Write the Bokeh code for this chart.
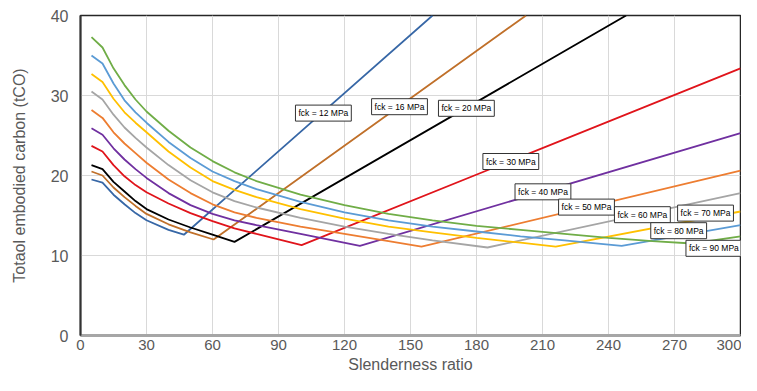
from bokeh.plotting import figure
from bokeh.models import Label, Range1d, FixedTicker
from bokeh.embed import file_html
from bokeh.resources import INLINE

# ---- data ----
x_ticks = [0, 30, 60, 90, 120, 150, 180, 210, 240, 270, 300]
y_ticks = [0, 10, 20, 30, 40]

x_12 = [5, 10, 15, 20, 25, 30, 40, 47, 160]
y_12 = [19.5, 19.1, 17.6, 16.4, 15.3, 14.4, 13.2, 12.6, 40.0]

x_16 = [5, 10, 15, 20, 25, 30, 40, 50, 60.5, 202.5]
y_16 = [20.5, 20.0, 18.5, 17.3, 16.2, 15.2, 13.9, 12.9, 12.0, 40.0]

x_20 = [5, 10, 15, 20, 25, 30, 40, 50, 60, 70, 248]
y_20 = [21.3, 20.8, 19.2, 18.0, 16.8, 15.8, 14.5, 13.5, 12.6, 11.7, 40.0]

x_30 = [5, 10, 15, 20, 25, 30, 40, 50, 60, 70, 80, 100.5, 300]
y_30 = [23.7, 23.0, 21.3, 19.9, 18.8, 17.9, 16.5, 15.3, 14.3, 13.4, 12.7, 11.3, 33.4]

x_40 = [5, 10, 15, 20, 25, 30, 40, 50, 60, 70, 80, 100, 127, 300]
y_40 = [25.9, 25.1, 23.4, 22.0, 20.8, 19.7, 17.8, 16.3, 15.2, 14.4, 13.8, 12.7, 11.2, 25.3]

x_50 = [5, 10, 15, 20, 25, 30, 40, 50, 60, 70, 80, 100, 120, 140, 155, 300]
y_50 = [28.2, 27.2, 25.4, 24.0, 22.8, 21.6, 19.5, 17.8, 16.4, 15.4, 14.7, 13.6, 12.7, 11.8, 11.1, 20.6]

x_60 = [5, 10, 15, 20, 25, 30, 40, 50, 60, 70, 80, 100, 120, 140, 160, 185, 300]
y_60 = [30.5, 29.5, 27.6, 26.0, 24.7, 23.5, 21.3, 19.4, 17.9, 16.8, 16.0, 14.7, 13.6, 12.7, 11.9, 11.0, 17.8]

x_70 = [5, 10, 15, 20, 25, 30, 40, 50, 60, 70, 80, 100, 120, 140, 160, 180, 200, 216, 300]
y_70 = [32.7, 31.7, 29.6, 27.9, 26.6, 25.4, 23.0, 21.0, 19.3, 18.2, 17.3, 15.8, 14.6, 13.6, 12.9, 12.2, 11.6, 11.1, 15.5]

x_80 = [5, 10, 15, 20, 25, 30, 40, 50, 60, 70, 80, 100, 120, 140, 160, 180, 200, 220, 246, 300]
y_80 = [35.0, 34.0, 31.5, 29.4, 27.9, 26.6, 24.2, 22.2, 20.5, 19.3, 18.3, 16.7, 15.4, 14.4, 13.6, 13.0, 12.4, 11.9, 11.2, 13.8]

x_90 = [5, 10, 15, 20, 25, 30, 40, 50, 60, 70, 80, 100, 120, 140, 160, 180, 200, 220, 240, 260, 278, 300]
y_90 = [37.3, 36.0, 33.4, 31.3, 29.5, 28.0, 25.6, 23.5, 21.8, 20.4, 19.3, 17.6, 16.3, 15.2, 14.4, 13.7, 13.2, 12.7, 12.2, 11.8, 11.5, 12.4]

series_names = ["fck = 12 MPa", "fck = 16 MPa", "fck = 20 MPa", "fck = 30 MPa", "fck = 40 MPa",
                "fck = 50 MPa", "fck = 60 MPa", "fck = 70 MPa", "fck = 80 MPa", "fck = 90 MPa"]
series_colors = ["#3767A6", "#C0702A", "#000000", "#E0141B", "#7030A0",
                 "#ED7D31", "#A5A5A5", "#FFC000", "#5B9BD5", "#70AD47"]
label_x = [110.4, 145.0, 175.4, 195.6, 210.2, 230.0, 255.4, 284.1, 271.9, 287.9]
label_y = [27.8, 28.6, 28.4, 21.75, 17.96, 16.05, 15.1, 15.3, 13.1, 10.9]

xs = [x_12, x_16, x_20, x_30, x_40, x_50, x_60, x_70, x_80, x_90]
ys = [y_12, y_16, y_20, y_30, y_40, y_50, y_60, y_70, y_80, y_90]

FONT = "Liberation Sans"

p = figure(width=741, height=375, x_range=Range1d(0, 300), y_range=Range1d(0, 40),
           output_backend="svg", toolbar_location=None,
           min_border_left=80, min_border_right=1, min_border_top=15, min_border_bottom=40)

p.background_fill_color = "white"
p.border_fill_color = "white"
p.outline_line_color = "#262626"
p.outline_line_width = 1.5

p.xaxis.ticker = FixedTicker(ticks=x_ticks)
p.yaxis.ticker = FixedTicker(ticks=y_ticks)
p.xgrid.ticker = FixedTicker(ticks=x_ticks)
p.ygrid.ticker = FixedTicker(ticks=y_ticks)
p.xgrid.grid_line_color = "#D9D9D9"
p.ygrid.grid_line_color = "#D9D9D9"

for ax in (p.xaxis, p.yaxis):
    ax.major_tick_line_color = None
    ax.minor_tick_line_color = None
    ax.major_tick_out = 0
    ax.major_tick_in = 0
    ax.minor_tick_out = 0
    ax.minor_tick_in = 0
    ax.major_label_text_font = FONT
    ax.major_label_text_color = "#595959"
    ax.axis_label_text_font = FONT
    ax.axis_label_text_font_style = "normal"
    ax.axis_label_text_color = "#595959"

p.yaxis.major_label_text_font_size = "16px"
p.yaxis.axis_label_text_font_size = "16px"
p.xaxis.major_label_text_font_size = "15px"
p.xaxis.axis_label_text_font_size = "16px"

p.xaxis.axis_line_color = "#A6A6A6"
p.xaxis.axis_line_width = 3
p.yaxis.axis_line_color = "#333333"
p.yaxis.axis_line_width = 2
p.xaxis.major_label_standoff = 4
p.yaxis.major_label_standoff = 12
p.xaxis.axis_label = "Slenderness ratio"
p.yaxis.axis_label = "Totaol embodied carbon (tCO)"
p.xaxis.axis_label_standoff = 3
p.yaxis.axis_label_standoff = 20

for x, y, c in zip(xs, ys, series_colors):
    p.line(x, y, line_color=c, line_width=1.8)

for name, lx, ly in zip(series_names, label_x, label_y):
    p.add_layout(Label(x=lx, y=ly, text=name, text_align="center", text_baseline="middle",
                       text_font=FONT, text_font_size="8.5px", text_color="#000000",
                       background_fill_color="white", border_line_color="#333333",
                       border_line_width=1, padding=3))

open("out.html", "w").write(file_html(p, INLINE))
